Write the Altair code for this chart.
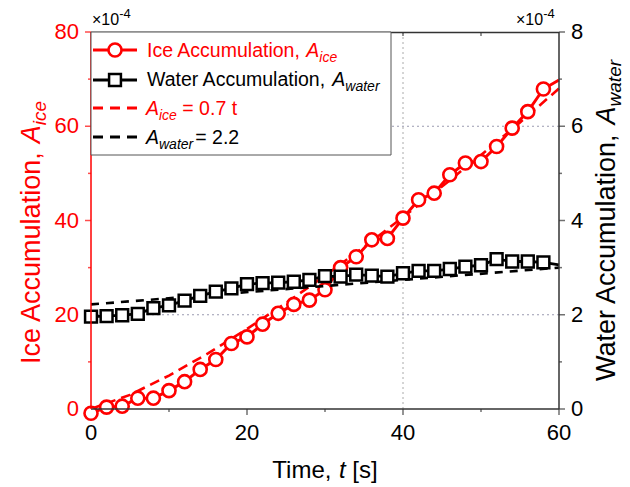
import altair as alt
import pandas as pd

FONT = "Liberation Sans"
RED = "#ff0000"
AXC = "#333333"
W, H = 468, 377

# ---------------- data ----------------
t_marks = [0, 2, 4, 6, 8, 10, 12, 14, 16, 18, 20, 22, 24, 26, 28,
           30, 32, 34, 36, 38, 40, 42, 44, 46, 48, 50, 52, 54, 56, 58]
ice_marks = [-0.9, 0.4, 0.6, 2.3, 2.3, 3.9, 5.8, 8.4, 10.5, 13.9, 15.3, 18.0, 20.3, 22.2, 23.1,
             25.3, 30.0, 32.3, 35.9, 36.2, 40.5, 44.4, 45.8, 49.7, 52.2, 52.5, 55.7, 59.6, 63.1, 67.9]
water_marks = [1.96, 1.97, 1.99, 2.02, 2.14, 2.20, 2.30, 2.40, 2.49, 2.56, 2.65, 2.67, 2.68, 2.70, 2.74,
               2.82, 2.81, 2.85, 2.83, 2.81, 2.88, 2.93, 2.93, 2.97, 3.02, 3.05, 3.18, 3.13, 3.13, 3.11]
t_line_end = [60]
ice_line_end = [69.8]
water_line_end = [3.06]

t_ice_fit = [0, 5, 10, 15, 20, 25, 30, 35, 40, 45, 50, 55, 60]
ice_fit = [0.0, 3.0, 7.1, 11.8, 17.0, 22.5, 28.3, 34.4, 40.7, 47.2, 53.9, 60.8, 68.0]
t_water_fit = [0, 60]
water_fit = [2.22, 3.0]

x_major = [0, 20, 40, 60]
x_labels = ["0", "20", "40", "60"]
x_minor = [10, 30, 50]
x_top_ticks = [10, 20, 30, 40, 50]
yl_major = [0, 20, 40, 60, 80]
yl_labels = ["0", "20", "40", "60", "80"]
yl_minor = [10, 30, 50, 70]
yr_major = [0, 2, 4, 6, 8]
yr_labels = ["0", "2", "4", "6", "8"]
yr_minor = [1, 3, 5, 7]
grid_x = [40]
grid_yl = [20, 60]

# ---------------- frames ----------------
df_ice_line = pd.DataFrame({"t": t_marks + t_line_end, "v": ice_marks + ice_line_end})
df_ice_pts = pd.DataFrame({"t": t_marks, "v": ice_marks})
df_ice_fit = pd.DataFrame({"t": t_ice_fit, "v": ice_fit})
df_w_line = pd.DataFrame({"t": t_marks + t_line_end, "w": water_marks + water_line_end})
df_w_pts = pd.DataFrame({"t": t_marks, "w": water_marks})
df_w_fit = pd.DataFrame({"t": t_water_fit, "w": water_fit})
df_gx = pd.DataFrame({"t": grid_x})
df_gy = pd.DataFrame({"v": grid_yl})
df_xmaj = pd.DataFrame({"t": x_major, "lab": x_labels})
df_xminor = pd.DataFrame({"t": x_minor})
df_xtop = pd.DataFrame({"t": x_top_ticks})
df_ylmaj = pd.DataFrame({"v": yl_major, "lab": yl_labels})
df_ylminor = pd.DataFrame({"v": yl_minor})
df_yrmaj = pd.DataFrame({"w": yr_major, "lab": yr_labels})
df_yrminor = pd.DataFrame({"w": yr_minor})
one = pd.DataFrame({"k": [0]})

xs = alt.Scale(domain=[0, 60], nice=False, zero=False)
ysl = alt.Scale(domain=[0, 80], nice=False, zero=False)
ysr = alt.Scale(domain=[0, 8], nice=False, zero=False)

XN = alt.X("t:Q", scale=xs, axis=None)
YL = alt.Y("v:Q", scale=ysl, axis=None)
YR = alt.Y("w:Q", scale=ysr, axis=None)
LBL = 22

# ---------------- left (ice) layer ----------------
grid_v = alt.Chart(df_gx).mark_rule(color="#aaaaaa", strokeDash=[2, 3], strokeWidth=1).encode(x=XN)
grid_h = alt.Chart(df_gy).mark_rule(color="#9a9ab0", strokeDash=[2, 3], strokeWidth=1).encode(y=YL)

x_major_ticks = alt.Chart(df_xmaj).mark_tick(color=AXC, thickness=1.5, size=6).encode(
    x=XN, y=alt.value(H + 3))
x_major_labels = alt.Chart(df_xmaj).mark_text(font=FONT, fontSize=LBL, color="black",
                                              align="center", baseline="alphabetic").encode(
    x=XN, y=alt.value(H + 31), text="lab:N")
x_minor_ticks = alt.Chart(df_xminor).mark_tick(color=AXC, thickness=1.5, size=3).encode(
    x=XN, y=alt.value(H + 1.5))
top_ticks = alt.Chart(df_xtop).mark_tick(color=AXC, thickness=1.5, size=4).encode(
    x=XN, y=alt.value(2))
yl_major_ticks = alt.Chart(df_ylmaj).mark_tick(color=RED, thickness=1.5, size=6).encode(
    y=YL, x=alt.value(-3))
yl_major_labels = alt.Chart(df_ylmaj).mark_text(font=FONT, fontSize=LBL, color=RED,
                                                align="right", baseline="middle").encode(
    y=YL, x=alt.value(-12), text="lab:N")
yl_minor_ticks = alt.Chart(df_ylminor).mark_tick(color=RED, thickness=1.5, size=3).encode(
    y=YL, x=alt.value(-1.5))

ice_fit_line = alt.Chart(df_ice_fit).mark_line(color=RED, strokeDash=[10, 6], strokeWidth=2.6).encode(
    x=XN, y=YL)
ice_line = alt.Chart(df_ice_line).mark_line(color=RED, strokeWidth=3).encode(x=XN, y=YL)
ice_pts = alt.Chart(df_ice_pts).mark_point(shape="circle", filled=True, fill="white", stroke=RED,
                                           strokeWidth=2.6, size=170, opacity=1).encode(x=XN, y=YL)
left = alt.layer(grid_v, grid_h, x_major_ticks, x_major_labels, x_minor_ticks, top_ticks,
                 yl_major_ticks, yl_major_labels, yl_minor_ticks,
                 ice_fit_line, ice_line, ice_pts)

# ---------------- right (water) layer ----------------
yr_major_ticks = alt.Chart(df_yrmaj).mark_tick(color=AXC, thickness=1.5, size=6).encode(
    y=YR, x=alt.value(W + 3))
yr_major_labels = alt.Chart(df_yrmaj).mark_text(font=FONT, fontSize=LBL, color="black",
                                                align="left", baseline="middle").encode(
    y=YR, x=alt.value(W + 12), text="lab:N")
yr_minor_ticks = alt.Chart(df_yrminor).mark_tick(color=AXC, thickness=1.5, size=3).encode(
    y=YR, x=alt.value(W + 1.5))
w_fit_line = alt.Chart(df_w_fit).mark_line(color="black", strokeDash=[8, 7], strokeWidth=2.6).encode(
    x=XN, y=YR)
w_line = alt.Chart(df_w_line).mark_line(color="black", strokeWidth=2.8).encode(x=XN, y=YR)
w_pts = alt.Chart(df_w_pts).mark_point(shape="square", filled=True, fill="white", stroke="black",
                                       strokeWidth=2.5, size=140, opacity=1).encode(x=XN, y=YR)
right = alt.layer(yr_major_ticks, yr_major_labels, yr_minor_ticks, w_fit_line, w_line, w_pts)

# ---------------- frame (axis lines) ----------------
frame = [
    alt.Chart(one).mark_rule(color=AXC, strokeWidth=1.5).encode(
        x=alt.value(0), x2=alt.value(W), y=alt.value(H)),
    alt.Chart(one).mark_rule(color=AXC, strokeWidth=1.5).encode(
        x=alt.value(0), x2=alt.value(W), y=alt.value(0.5)),
    alt.Chart(one).mark_rule(color=AXC, strokeWidth=1.5).encode(
        x=alt.value(W), y=alt.value(0), y2=alt.value(H)),
    alt.Chart(one).mark_rule(color=RED, strokeWidth=1.5).encode(
        x=alt.value(0), y=alt.value(0), y2=alt.value(H)),
]

# ---------------- text helpers ----------------
AW = {' ': 278, ',': 278, '.': 278, '=': 584, '[': 278, ']': 278, '-': 333, '×': 584,
      'A': 667, 'I': 278, 'T': 611, 'W': 944, 'a': 556, 'c': 500, 'e': 556, 'i': 222,
      'l': 222, 'm': 833, 'n': 556, 'o': 556, 'r': 333, 's': 500, 't': 278, 'u': 556,
      'w': 722}
for d in "0123456789":
    AW[d] = 556


def tw(s, size):
    return sum(AW.get(c, 556) for c in s) * size / 1000.0


def txt(s, x, y, size, color, style="normal", angle=0):
    return alt.Chart(one).mark_text(text=s, font=FONT, fontSize=size, fontStyle=style,
                                    color=color, angle=angle, align="left",
                                    baseline="alphabetic").encode(
        x=alt.value(x), y=alt.value(y))


def rich(pieces, x0, y0, color, vertical=False):
    # pieces: (text, size, style, baseline shift, gap before)
    out = []
    pos = x0 if not vertical else y0
    for s, size, style, dy, gap in pieces:
        if vertical:
            pos -= gap
            out.append(txt(s, x0 + dy, pos, size, color, style, angle=270))
            pos -= tw(s, size)
        else:
            pos += gap
            out.append(txt(s, pos, y0 + dy, size, color, style))
            pos += tw(s, size)
    return out


def rich_len(pieces):
    return sum(tw(s, size) + gap for s, size, _, _, gap in pieces)


texts = []
# x title
XF = 24
xt = [("Time,", XF, "normal", 0, 0), ("t", XF, "italic", 0, 0.278 * XF),
      ("[s]", XF, "normal", 0, 0.278 * XF)]
texts += rich(xt, W / 2 - rich_len(xt) / 2, 446, "black")
# y titles
F, FS, SUB = 27, 19, 6
ylt = [("Ice Accumulation,", F, "normal", 0, 0), ("A", F, "italic", 0, 0.278 * F),
       ("ice", FS, "italic", SUB, 0)]
texts += rich(ylt, -51, H / 2 + 12 + rich_len(ylt) / 2, RED, vertical=True)
yrt = [("Water Accumulation,", F, "normal", 0, 0), ("A", F, "italic", 0, 0.278 * F),
       ("water", FS, "italic", SUB, 0)]
texts += rich(yrt, 524, H / 2 + rich_len(yrt) / 2, "black", vertical=True)
# exponent labels
texts += rich([("×10", 16, "normal", 0, 0), ("-4", 13, "normal", -7, 0)], 1, -7, "black")
texts += rich([("×10", 16, "normal", 0, 0), ("-4", 13, "normal", -7, 0)], 425, -7, "black")

# ---------------- legend ----------------
LF, LFS, LSUB = 19.5, 14, 5
SP = 0.278 * LF
box = alt.Chart(one).mark_rect(fill="white", stroke="#555555", strokeWidth=1).encode(
    x=alt.value(0), x2=alt.value(300), y=alt.value(0), y2=alt.value(123))
row_line = [18, 48, 76, 105]
row_base = [25, 54, 83, 112]
leg = [box]
leg.append(alt.Chart(one).mark_rule(color=RED, strokeWidth=2.8).encode(
    x=alt.value(2), x2=alt.value(46), y=alt.value(row_line[0])))
leg.append(alt.Chart(one).mark_point(shape="circle", filled=True, fill="white", stroke=RED,
                                     strokeWidth=2.6, size=170, opacity=1).encode(
    x=alt.value(24), y=alt.value(row_line[0])))
leg.append(alt.Chart(one).mark_rule(color="black", strokeWidth=2.8).encode(
    x=alt.value(2), x2=alt.value(46), y=alt.value(row_line[1])))
leg.append(alt.Chart(one).mark_point(shape="square", filled=True, fill="white", stroke="black",
                                     strokeWidth=2.5, size=140, opacity=1).encode(
    x=alt.value(24), y=alt.value(row_line[1])))
leg.append(alt.Chart(one).mark_rule(color=RED, strokeWidth=2.8, strokeDash=[10, 7]).encode(
    x=alt.value(2), x2=alt.value(46), y=alt.value(row_line[2])))
leg.append(alt.Chart(one).mark_rule(color="black", strokeWidth=2.8, strokeDash=[10, 7]).encode(
    x=alt.value(2), x2=alt.value(46), y=alt.value(row_line[3])))
leg += rich([("Ice Accumulation,", LF, "normal", 0, 0), ("A", LF, "italic", 0, SP),
             ("ice", LFS, "italic", LSUB, 0)], 56, row_base[0], RED)
leg += rich([("Water Accumulation,", LF, "normal", 0, 0), ("A", LF, "italic", 0, SP),
             ("water", LFS, "italic", LSUB, 0)], 56, row_base[1], "black")
leg += rich([("A", LF, "italic", 0, 0), ("ice", LFS, "italic", LSUB, 0),
             ("= 0.7 t", LF, "normal", 0, SP)], 55, row_base[2], RED)
leg += rich([("A", LF, "italic", 0, 0), ("water", LFS, "italic", LSUB, 0),
             ("= 2.2", LF, "normal", 0, 2)], 55, row_base[3], "black")

chart = alt.layer(left, right, *frame, *leg, *texts).resolve_scale(
    y="independent"
).properties(
    width=W, height=H,
    padding={"left": 91, "top": 32, "right": 71, "bottom": 78},
    autosize=alt.AutoSizeParams(type="none"),
    background="white",
).configure_view(strokeWidth=0)

chart.save("out.html", embed_options={"renderer": "svg", "actions": False})
